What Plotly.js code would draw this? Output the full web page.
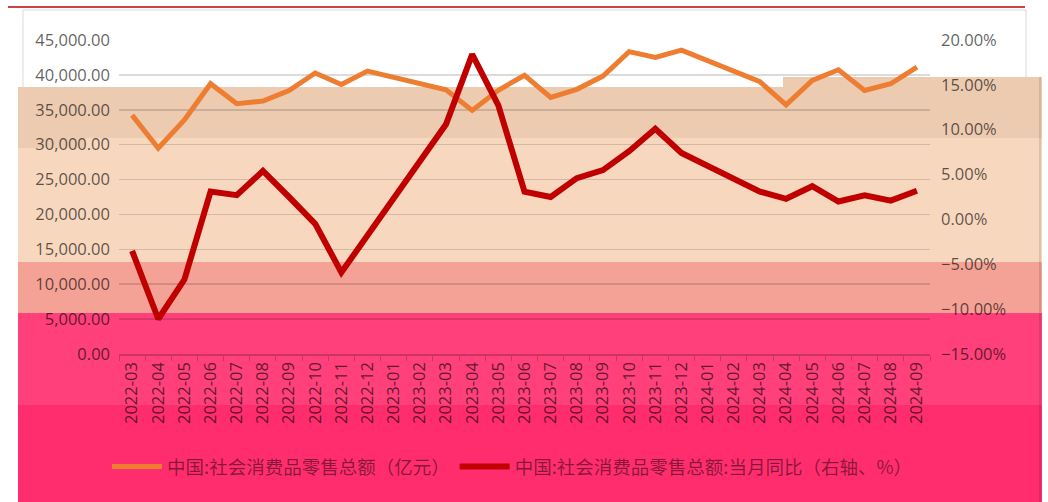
<!DOCTYPE html>
<html>
<head>
<meta charset="utf-8">
<script src="https://cdn.plot.ly/plotly-3.0.1.min.js"></script>
<style>html,body{margin:0;padding:0;background:#fff;}#chart{width:1048px;height:502px;}</style>
</head>
<body>
<div id="chart"></div>
<script>
// ---- data ----
const months = ['2022-03','2022-04','2022-05','2022-06','2022-07','2022-08','2022-09','2022-10','2022-11','2022-12',
  '2023-01','2023-02','2023-03','2023-04','2023-05','2023-06','2023-07','2023-08','2023-09','2023-10','2023-11','2023-12',
  '2024-01','2024-02','2024-03','2024-04','2024-05','2024-06','2024-07','2024-08','2024-09'];
const retailSales = [34233, 29483, 33547, 38742, 35870, 36258, 37745, 40271, 38615, 40542,
  null, null, 37855, 34910, 37803, 39951, 36761, 37933, 39826, 43333, 42505, 43550,
  null, null, 39020, 35699, 39211, 40732, 37757, 38726, 41112];
const yoyGrowth = [-3.5, -11.1, -6.7, 3.1, 2.7, 5.4, 2.5, -0.5, -5.9, -1.8,
  null, null, 10.6, 18.4, 12.7, 3.1, 2.5, 4.6, 5.5, 7.6, 10.1, 7.4,
  null, null, 3.1, 2.3, 3.7, 2.0, 2.7, 2.1, 3.2];
const seriesNames = ['中国:社会消费品零售总额（亿元）', '中国:社会消费品零售总额:当月同比（右轴、%）'];

// ---- layout helpers (pixel -> paper) ----
const PL = 119, PR = 930, PT = 40, PB = 354;
const px = x => (x - PL) / (PR - PL);
const py = y => (PB - y) / (PB - PT);
function rect(x0, y0, x1, y1, fill, line) {
  return {type:'rect', xref:'paper', yref:'paper', layer:'below',
    x0:px(x0), x1:px(x1), y0:py(y1), y1:py(y0),
    fillcolor: fill || 'rgba(0,0,0,0)',
    line: line || {width:0}};
}
function seg(x0, y0, x1, y1, color, width, layer) {
  return {type:'line', xref:'paper', yref:'paper', layer: layer || 'below',
    x0:px(x0), x1:px(x1), y0:py(y0), y1:py(y1), line:{color:color, width:width}};
}

const shapes = [
  rect(23, 10, 1026, 200, null, {color:'#D9D9D9', width:1}),
  seg(8, 7, 1025, 7, '#C00000', 1.5),
  rect(18, 87, 1042, 138, '#EDCBB1'),
  rect(783, 77, 1042, 87, '#EDCBB1'),
  rect(18, 138, 1042, 262, '#F7D7BE'),
  rect(18, 138, 85, 148, '#EDCBB1'),
  rect(18, 262, 1042, 313, '#F4A295'),
  rect(18, 313, 1042, 405, '#FF407A'),
  rect(18, 405, 1042, 502, '#FF2D6D'),
  seg(1040, 77, 1040, 502, 'rgba(0,0,0,0.15)', 1.5)
];

const traces = [
  {x: months, y: retailSales, name: seriesNames[0], type:'scatter', mode:'lines',
   connectgaps:true, line:{color:'#ED7D31', width:5}, yaxis:'y'},
  {x: months, y: yoyGrowth, name: seriesNames[1], type:'scatter', mode:'lines',
   connectgaps:true, line:{color:'#C00000', width:6}, yaxis:'y2'}
];

const tickFont = {family:'"Open Sans", "Noto Sans", sans-serif', size:16.5, color:'rgba(0,0,0,0.64)'};

const layout = {
  width:1048, height:502,
  margin:{l:PL, r:1048-PR, t:PT, b:502-PB, pad:0},
  paper_bgcolor:'#ffffff', plot_bgcolor:'rgba(0,0,0,0)',
  showlegend:true,
  hovermode:false,
  xaxis:{type:'category', range:[-0.5, months.length - 0.5], tickangle:-90, tickson:'boundaries', ticks:'outside', ticklen:5,
    tickcolor:'rgba(0,0,0,0.2)', showline:true, linecolor:'rgba(0,0,0,0.2)', linewidth:1.5,
    showgrid:false, zeroline:false, tickfont:tickFont, automargin:false},
  yaxis:{range:[0,45000], dtick:5000, tickformat:',.2f', showgrid:true, gridcolor:'rgba(0,0,0,0.14)',
    gridwidth:1.5, zeroline:false, showline:false, ticks:'', tickfont:tickFont, ticklabelstandoff:8, automargin:false},
  yaxis2:{range:[-15,20], dtick:5, tickformat:'.2f', ticksuffix:'%', overlaying:'y', side:'right',
    showgrid:false, zeroline:false, showline:false, ticks:'', tickfont:tickFont, ticklabelstandoff:10, automargin:false},
  legend:{orientation:'h', x:px(512), xanchor:'center', y:py(467), yanchor:'middle',
    bgcolor:'rgba(0,0,0,0)', itemwidth:50,
    font:{family:'"Noto Sans CJK SC", sans-serif', size:18.5, color:'rgba(0,0,0,0.48)'}},
  shapes: shapes
};

Plotly.newPlot('chart', traces, layout, {displayModeBar:false, staticPlot:true});
</script>
</body>
</html>
